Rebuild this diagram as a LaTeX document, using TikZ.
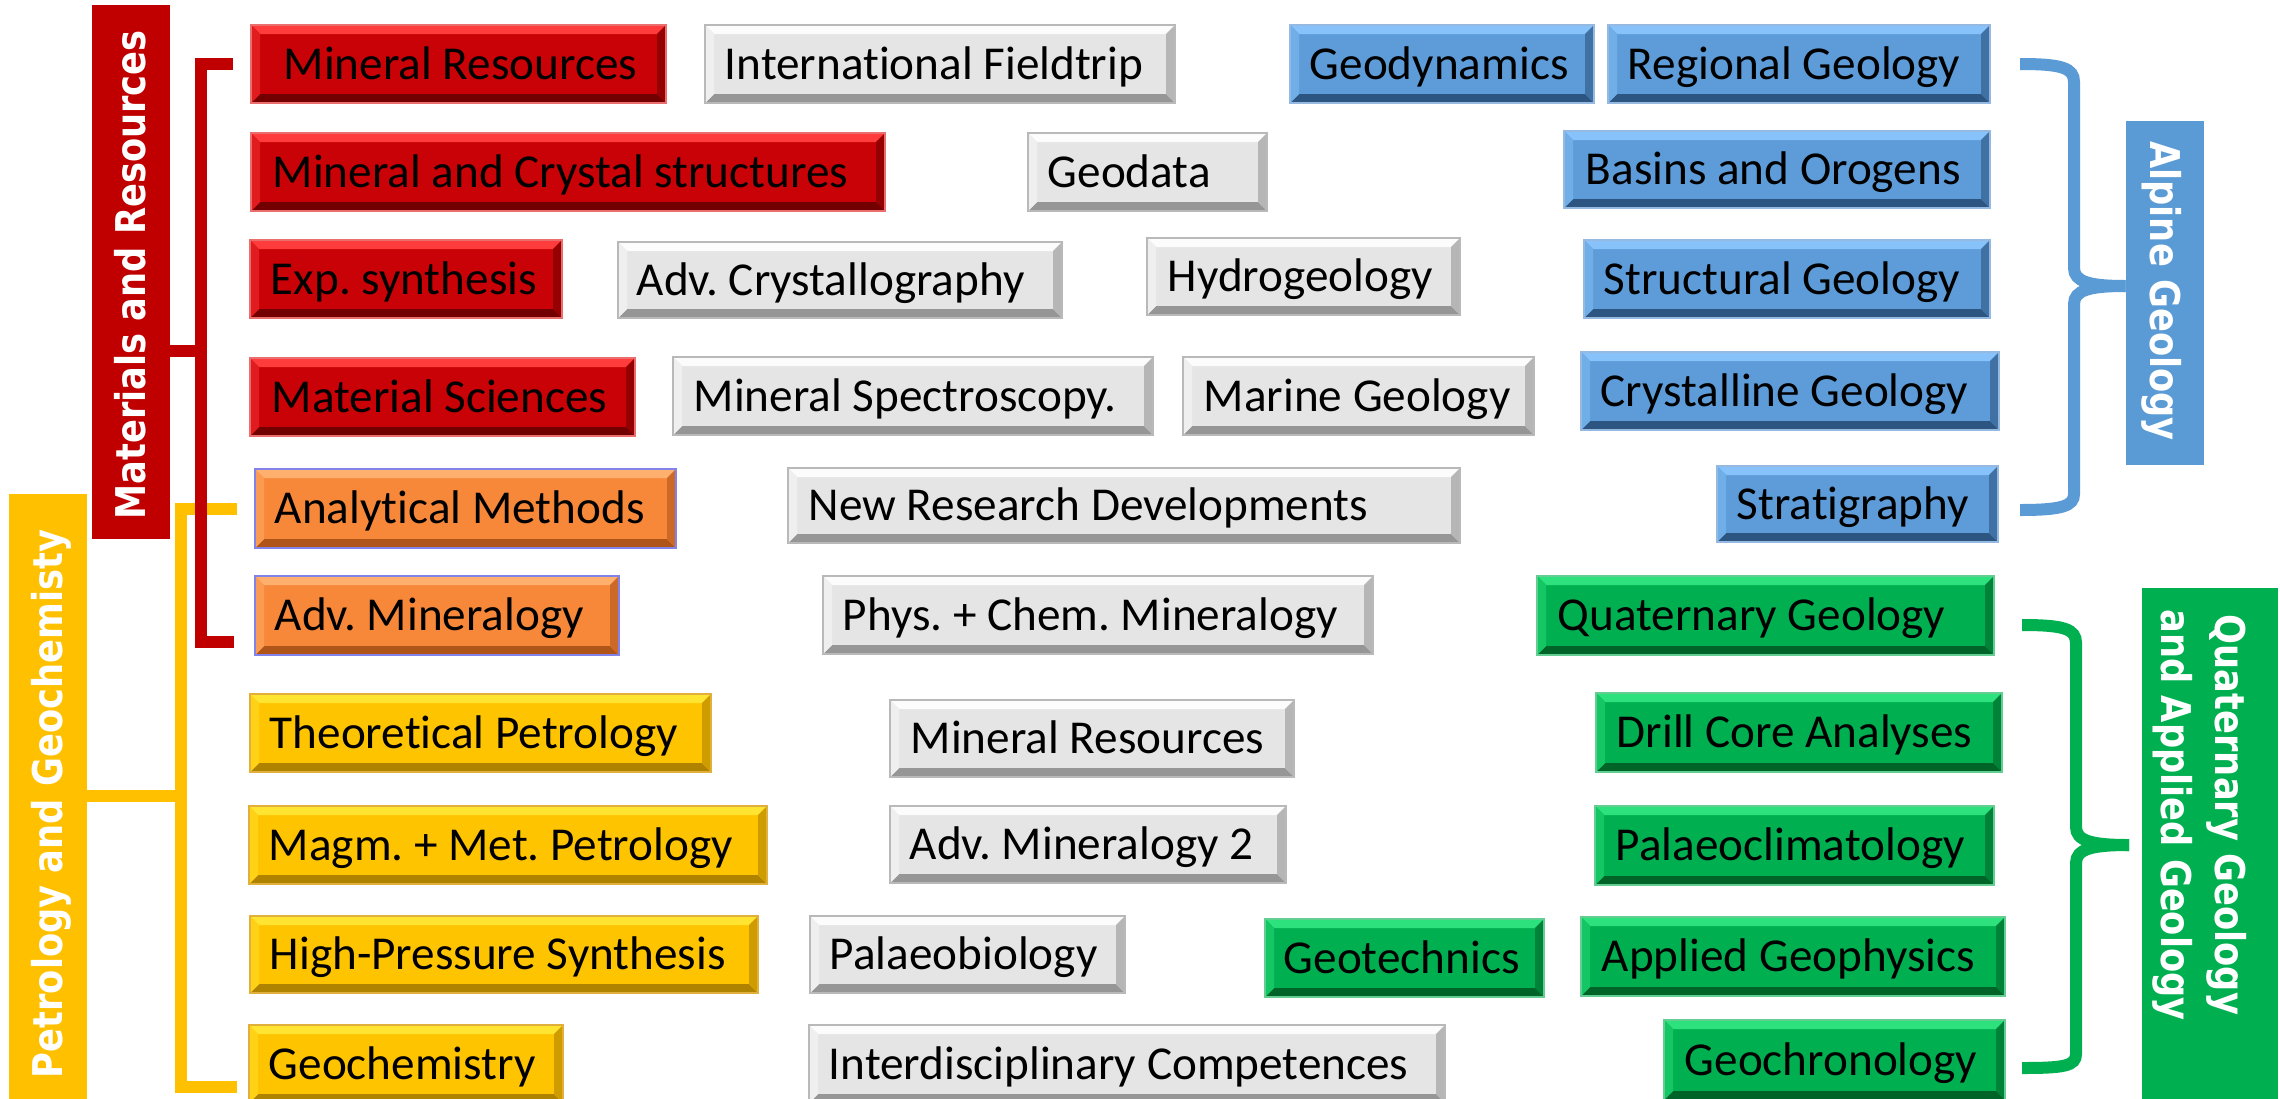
\documentclass[tikz,border=0pt]{standalone}
\usepackage{fontspec}
\setmainfont{Carlito}[Ligatures=NoCommon]
\newfontfamily\labfont{DejaVu Sans}
\usepackage{graphicx}
\frenchspacing
\definecolor{rbase}{RGB}{200,2,6}
\definecolor{rlight}{RGB}{255,60,60}
\definecolor{rdark}{RGB}{115,0,0}
\definecolor{redge}{RGB}{235,110,110}
\definecolor{gbase}{RGB}{229,229,229}
\definecolor{glight}{RGB}{252,252,252}
\definecolor{gdark}{RGB}{150,150,150}
\definecolor{gedge}{RGB}{185,185,185}
\definecolor{bbase}{RGB}{93,156,216}
\definecolor{blight}{RGB}{135,195,250}
\definecolor{bdark}{RGB}{45,85,130}
\definecolor{bedge}{RGB}{150,185,225}
\definecolor{obase}{RGB}{247,136,58}
\definecolor{olight}{RGB}{255,175,110}
\definecolor{odark}{RGB}{175,85,25}
\definecolor{oedge}{RGB}{130,130,235}
\definecolor{ybase}{RGB}{255,196,0}
\definecolor{ylight}{RGB}{255,228,50}
\definecolor{ydark}{RGB}{175,130,0}
\definecolor{yedge}{RGB}{225,175,60}
\definecolor{ebase}{RGB}{0,176,80}
\definecolor{elight}{RGB}{45,225,125}
\definecolor{edark}{RGB}{0,100,40}
\definecolor{eedge}{RGB}{100,205,145}
\definecolor{labred}{RGB}{192,0,0}
\definecolor{labyel}{RGB}{255,192,0}
\definecolor{labblue}{RGB}{91,155,213}
\definecolor{labgreen}{RGB}{0,176,80}
\tikzset{
  bevel/.style n args={4}{fill=#1, draw=#4, line width=0.6pt, inner sep=0pt, path picture={
    \fill[#2] (path picture bounding box.north west) -- (path picture bounding box.north east) -- ([xshift=-4.5pt,yshift=-4.5pt]path picture bounding box.north east) -- ([xshift=4.5pt,yshift=-4.5pt]path picture bounding box.north west) -- cycle;
    \fill[#3] (path picture bounding box.south west) -- (path picture bounding box.south east) -- ([xshift=-4.5pt,yshift=4.5pt]path picture bounding box.south east) -- ([xshift=4.5pt,yshift=4.5pt]path picture bounding box.south west) -- cycle;
    \fill[#2!45!#1] (path picture bounding box.north west) -- ([xshift=4.5pt,yshift=-4.5pt]path picture bounding box.north west) -- ([xshift=4.5pt,yshift=4.5pt]path picture bounding box.south west) -- (path picture bounding box.south west) -- cycle;
    \fill[#3!60!#1] (path picture bounding box.north east) -- ([xshift=-4.5pt,yshift=-4.5pt]path picture bounding box.north east) -- ([xshift=-4.5pt,yshift=4.5pt]path picture bounding box.south east) -- (path picture bounding box.south east) -- cycle;
  }},
  redbox/.style={bevel={rbase}{rlight}{rdark}{redge}},
  graybox/.style={bevel={gbase}{glight}{gdark}{gedge}},
  bluebox/.style={bevel={bbase}{blight}{bdark}{bedge}},
  orangebox/.style={bevel={obase}{olight}{odark}{oedge}},
  yelbox/.style={bevel={ybase}{ylight}{ydark}{yedge}},
  greenbox/.style={bevel={ebase}{elight}{edark}{eedge}},
  boxtext/.style={font=\fontsize{23.6pt}{28pt}\selectfont, inner sep=0pt, text=black},
  labbox/.style={inner sep=0pt, draw=none},
  labtext/.style={font=\labfont\bfseries\fontsize{20.5pt}{27pt}\selectfont, inner sep=0pt, text=white},
  brk/.style={line width=6pt},
}
\newcommand\bx[8]{%
  \node[#2, minimum width={(#5-#3)*0.5pt}, minimum height={(#6-#4)*0.5pt}] (#1) at ({(#3+#5)/2},{(#4+#6)/2}) {};
  \node[boxtext, anchor=base west] (#1t) at ([xshift={#7*0.5pt}, yshift=-7.6pt]#1.west) {#8};
}
\begin{document}
\begin{tikzpicture}[x=0.5pt,y=-0.5pt]
\clip (0,0) rectangle (2280,1098);
\fill[white] (0,0) rectangle (2280,1098);

% label bars
\node[labbox, fill=labred, minimum width=39pt, minimum height=267pt] (L1) at (131,272) {};
\node[labbox, fill=labyel, minimum width=39pt, minimum height=310pt] (L2) at (48,804) {};
\node[labbox, fill=labblue, minimum width=39pt, minimum height=172pt] (L3) at (2165,293) {};
\node[labbox, fill=labgreen, minimum width=68pt, minimum height=262pt] (L4) at (2210,850) {};

% brackets
\coordinate (ya) at (237,509);
\coordinate (yb) at (237,1087);
\draw[brk, labyel] (ya) -- (181,509) -- (181,1087) -- (yb);
\draw[brk, labyel] (L2.east |- 0,796) -- (127,796) -- (181,796);
\coordinate (ra) at (233,64);
\coordinate (rb) at (234,642);
\draw[brk, labred] (ra) -- (201,64) -- (201,642) -- (rb);
\draw[brk, labred] (L1.east |- 0,351) -- (201,351);

\coordinate (ba) at (2020,64);
\coordinate (bb) at (2020,510);
\draw[brk, labblue] (ba) .. controls (2062,64) and (2074,68) .. (2074,82) -- (2074,268) .. controls (2074,282) and (2090,286) .. (L3.west |- 0,286);
\draw[brk, labblue] (L3.west |- 0,286) .. controls (2090,286) and (2074,290) .. (2074,304) -- (2074,494) .. controls (2074,506) and (2062,510) .. (bb);

\coordinate (ea) at (2022,625);
\coordinate (eb) at (2022,1068);
\coordinate (ec) at (2129,845);
\draw[brk, labgreen] (ea) .. controls (2064,625) and (2076,629) .. (2076,643) -- (2076,827) .. controls (2076,841) and (2092,845) .. (ec);
\draw[brk, labgreen] (ec) .. controls (2092,845) and (2076,849) .. (2076,863) -- (2076,1054) .. controls (2076,1066) and (2064,1068) .. (eb);

% label texts
\node[labtext, rotate=90, text height=14.9pt, text depth=0pt] (L1t) at (131,275) {\scalebox{0.86}[1]{Materials and Resources}};
\node[labtext, rotate=90, text height=14.9pt, text depth=0pt] (L2t) at (48,804) {\scalebox{0.86}[1]{Petrology and Geochemisty}};
\node[labtext, rotate=-90, text height=14.9pt, text depth=0pt] (L3t) at (2165,291) {\scalebox{0.86}[1]{Alpine Geology}};
\node[labtext, rotate=-90, align=center] (L4t) at (2200,815) {\scalebox{0.86}[1]{Quaternary Geology}\\\scalebox{0.86}[1]{and Applied Geology}};

% red
\bx{r1}{redbox}{251}{25}{666}{103}{33}{Mineral Resources}
\bx{r2}{redbox}{251}{133}{885}{211}{22}{Mineral and Crystal structures}
\bx{r3}{redbox}{250}{240}{562}{318}{21}{Exp. synthesis}
\bx{r4}{redbox}{250}{358}{635}{436}{22}{Material Sciences}
% orange
\bx{o1}{orangebox}{255}{469}{676}{548}{20}{Analytical Methods}
\bx{o2}{orangebox}{255}{576}{619}{655}{20}{Adv. Mineralogy}
% yellow
\bx{y1}{yelbox}{250}{694}{711}{772}{20}{Theoretical Petrology}
\bx{y2}{yelbox}{249}{806}{767}{884}{20}{Magm. + Met. Petrology}
\bx{y3}{yelbox}{250}{916}{758}{993}{20}{High-Pressure Synthesis}
\bx{y4}{yelbox}{249}{1025}{563}{1103}{20}{Geochemistry}
% gray
\bx{g1}{graybox}{705}{25}{1175}{103}{20}{International Fieldtrip}
\bx{g2}{graybox}{1028}{133}{1267}{211}{20}{Geodata}
\bx{g3}{graybox}{618}{242}{1062}{318}{19}{Adv. Crystallography}
\bx{g4}{graybox}{1147}{238}{1460}{315}{21}{Hydrogeology}
\bx{g5}{graybox}{673}{357}{1153}{435}{21}{Mineral Spectroscopy.}
\bx{g6}{graybox}{1183}{357}{1534}{435}{21}{Marine Geology}
\bx{g7}{graybox}{788}{468}{1460}{543}{21}{New Research Developments}
\bx{g8}{graybox}{823}{576}{1373}{654}{20}{Phys. + Chem. Mineralogy}
\bx{g9}{graybox}{890}{700}{1294}{777}{21}{Mineral Resources}
\bx{g10}{graybox}{890}{806}{1286}{883}{20}{Adv. Mineralogy 2}
\bx{g11}{graybox}{810}{916}{1125}{993}{20}{Palaeobiology}
\bx{g12}{graybox}{809}{1025}{1445}{1103}{20}{Interdisciplinary Competences}
% blue
\bx{b1}{bluebox}{1290}{25}{1594}{103}{20}{Geodynamics}
\bx{b2}{bluebox}{1608}{25}{1990}{103}{20}{Regional Geology}
\bx{b3}{bluebox}{1564}{131}{1990}{208}{22}{Basins and Orogens}
\bx{b4}{bluebox}{1584}{240}{1990}{318}{20}{Structural Geology}
\bx{b5}{bluebox}{1581}{352}{1999}{430}{20}{Crystalline Geology}
\bx{b6}{bluebox}{1717}{466}{1998}{542}{20}{Stratigraphy}
% green
\bx{e1}{greenbox}{1537}{576}{1994}{655}{21}{Quaternary Geology}
\bx{e2}{greenbox}{1596}{693}{2002}{772}{21}{Drill Core Analyses}
\bx{e3}{greenbox}{1595}{806}{1994}{885}{21}{Palaeoclimatology}
\bx{e4}{greenbox}{1265}{919}{1544}{997}{19}{Geotechnics}
\bx{e5}{greenbox}{1581}{917}{2005}{996}{21}{Applied Geophysics}
\bx{e6}{greenbox}{1664}{1020}{2005}{1100}{21}{Geochronology}
\end{tikzpicture}
\end{document}
